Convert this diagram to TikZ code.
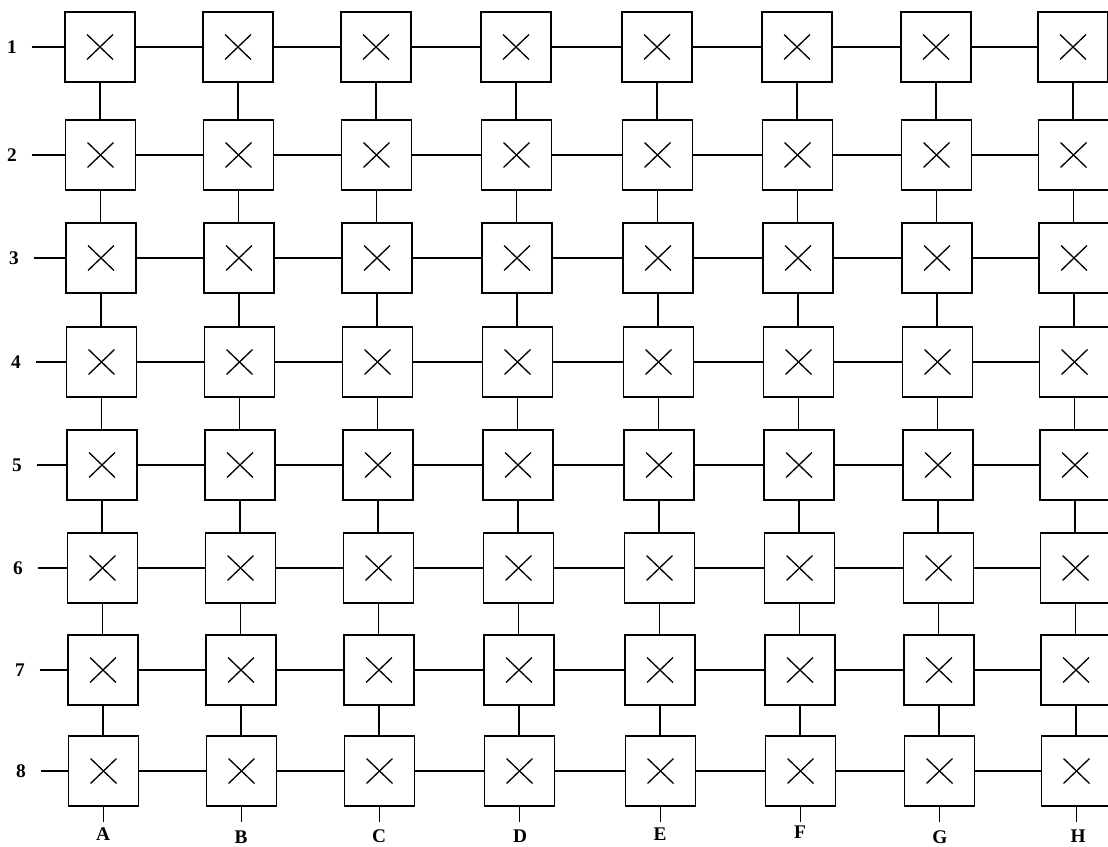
\documentclass[tikz,border=0pt]{standalone}
\usepackage{fontspec}
\setmainfont{Liberation Serif}
\usetikzlibrary{positioning}

\tikzset{
  cell/.style={draw, minimum size=1.4cm, inner sep=0pt,
    path picture={
      \draw[line width=0.75pt] ([shift={(-0.26cm,-0.25cm)}]path picture bounding box.center) -- ([shift={(0.26cm,0.25cm)}]path picture bounding box.center);
      \draw[line width=0.75pt] ([shift={(-0.26cm,0.25cm)}]path picture bounding box.center) -- ([shift={(0.26cm,-0.25cm)}]path picture bounding box.center);
    }},
  rowlab/.style={font=\fontsize{11}{12}\selectfont\bfseries, inner xsep=8pt, inner ysep=0pt},
  collab/.style={font=\fontsize{11}{12}\selectfont\bfseries, inner sep=0pt}
}

\begin{document}
\begin{tikzpicture}[x=0.02cm, y=-0.02cm, line width=0.95pt]
\useasboundingbox (0,0) rectangle (1108,847);
\clip (0,0) rectangle (1108,847);
\fill[white] (0,0) rectangle (1108,847);

% boxes
\foreach \yr [count=\r] in {47,155,258,362,465,568,670,771}{
  \foreach \c/\xc in {A/100,B/238,C/376,D/516,E/657,F/797,G/936,H/1073}{
    \node[cell] (\c\r) at ({\xc+0.5*(\r-1)},\yr) {};
  }
}

% row labels
\foreach \xl/\yr [count=\r] in {12/47,12/155,14/258,16/362,17/465,18/568,20/670,21/771}{
  \node[rowlab] (row\r) at (\xl,\yr) {\r};
  \draw (row\r.east) -- (A\r.west);
}

% horizontal links
\foreach \r in {1,...,8}{
  \draw (A\r) -- (B\r) -- (C\r) -- (D\r) -- (E\r) -- (F\r) -- (G\r) -- (H\r);
}

% vertical links
\foreach \c in {A,B,C,D,E,F,G,H}{
  \foreach \r [evaluate=\r as \n using int(\r+1)] in {1,...,7}{
    \draw (\c\r.south) -- (\c\r.south |- \c\n.north);
  }
  \coordinate[below=0.3cm of \c8.south] (end\c);
  \draw (\c8.south) -- (end\c);
}

% column labels
\foreach \c/\xc/\yc in {A/103/834,B/241/837,C/379/836,D/520/836,E/660/834,F/800/832,G/940/837,H/1078/836}{
  \node[collab] (lab\c) at (\xc,\yc) {\c};
}
\end{tikzpicture}
\end{document}
